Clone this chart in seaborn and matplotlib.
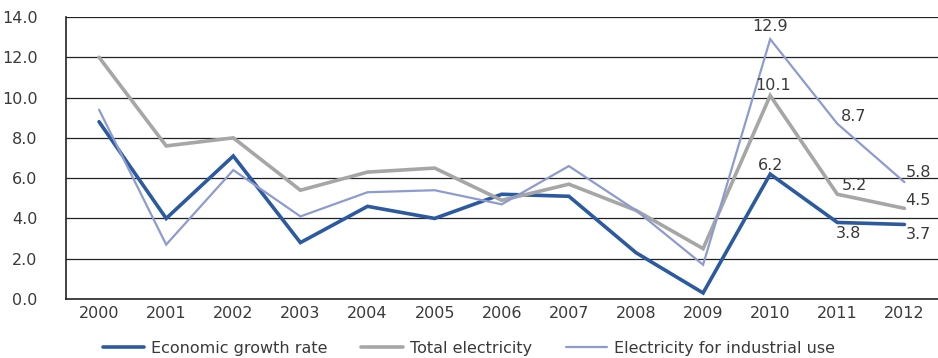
import matplotlib
matplotlib.use("Agg")
import matplotlib.pyplot as plt
import seaborn as sns
import pandas as pd
import numpy as np

years = ["2000", "2001", "2002", "2003", "2004", "2005", "2006",
         "2007", "2008", "2009", "2010", "2011", "2012"]
economic_growth = [8.8, 4.0, 7.1, 2.8, 4.6, 4.0, 5.2, 5.1, 2.3, 0.3, 6.2, 3.8, 3.7]
total_electricity = [12.0, 7.6, 8.0, 5.4, 6.3, 6.5, 4.9, 5.7, 4.4, 2.5, 10.1, 5.2, 4.5]
industrial_electricity = [9.4, 2.7, 6.4, 4.1, 5.3, 5.4, 4.7, 6.6, 4.4, 1.7, 12.9, 8.7, 5.8]
series_names = ["Economic growth rate", "Total electricity", "Electricity for industrial use"]
series_values = [economic_growth, total_electricity, industrial_electricity]
colors = ["#2C5AA0", "#A6A6A6", "#8E9BD0"]
widths = [2.6, 2.6, 1.6]

sns.set_theme(style="white")
plt.rcParams['font.family'] = ['DejaVu Sans']
text_color = "#3a3a3a"
fs = 11.5

rows = []
for name, vals in zip(series_names, series_values):
    for i, v in enumerate(vals):
        rows.append({"x": i, "value": v, "series": name})
df = pd.DataFrame(rows)

fig = plt.figure(figsize=(9.38, 3.58), dpi=100)
ax = fig.add_axes([65.5 / 938, 1 - 299 / 358, (938 - 65.5) / 938, (299 - 17) / 358])

# gridlines
for g in np.arange(2, 15, 2):
    ax.axhline(g, color="#222222", lw=0.9, zorder=0)

sns.lineplot(data=df, x="x", y="value", hue="series", hue_order=series_names,
             palette=dict(zip(series_names, colors)), ax=ax, legend=False,
             estimator=None, sort=False)
for line, w in zip(ax.get_lines()[-3:], widths):
    line.set_linewidth(w)
    line.set_solid_joinstyle("miter")

ax.set_xlim(-0.5, 12.5)
ax.set_ylim(0, 14)
ax.set_yticks(np.arange(0, 15, 2))
ax.set_yticklabels([f"{v:.1f}" for v in np.arange(0, 15, 2)], fontsize=fs, color=text_color)
ax.set_xticks(range(len(years)))
ax.set_xticklabels(years, fontsize=fs, color=text_color)
ax.set_xticks(np.arange(0.5, 12, 1), minor=True)
ax.tick_params(axis="x", which="major", length=0, pad=5)
ax.tick_params(axis="x", which="minor", length=4, direction="in", color="#222222", width=1)
ax.tick_params(axis="y", length=0, pad=20)
ax.set_xlabel("")
ax.set_ylabel("")
for s in ["top", "right"]:
    ax.spines[s].set_visible(False)
for s in ["left", "bottom"]:
    ax.spines[s].set_color("#222222")
    ax.spines[s].set_linewidth(1.2)

# data labels
def lab(i, vals, dx, dy, ha="center"):
    ax.annotate(f"{vals[i]:.1f}", (i, vals[i]), xytext=(dx, dy), textcoords="offset points",
                ha=ha, va="center", fontsize=fs, color=text_color)

lab(10, industrial_electricity, 0, 9)
lab(10, total_electricity, 2, 7)
lab(10, economic_growth, 0, 6)
lab(11, industrial_electricity, 12, 5)
lab(11, total_electricity, 12, 6)
lab(11, economic_growth, 8, -8)
lab(12, industrial_electricity, 10, 7)
lab(12, total_electricity, 10, 6)
lab(12, economic_growth, 10, -7)

from matplotlib.lines import Line2D
handles = [Line2D([0], [0], color=c, lw=w) for c, w in zip(colors, widths)]
leg = fig.legend(handles, series_names, loc="center", bbox_to_anchor=(0.5, 1 - 348 / 358),
                 ncol=3, frameon=False, fontsize=fs, handlelength=2.6,
                 columnspacing=2.1, handletextpad=0.45)
for t in leg.get_texts():
    t.set_color(text_color)

fig.savefig("out.png", dpi=100)
